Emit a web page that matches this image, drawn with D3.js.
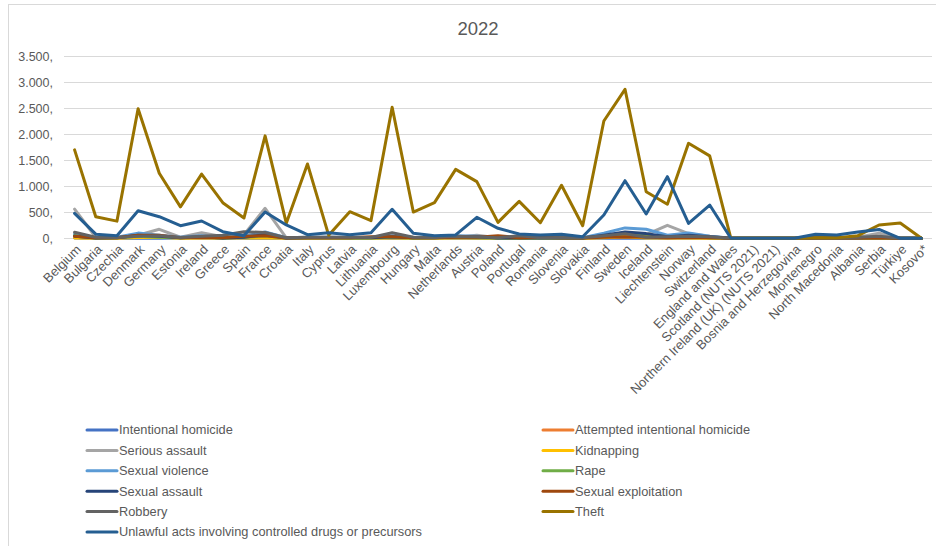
<!DOCTYPE html>
<html>
<head>
<meta charset="utf-8">
<script src="https://cdn.jsdelivr.net/npm/d3@7"></script>
<style>
  body { margin: 0; background: #fff; }
  svg { display: block; font-family: "Liberation Sans", Arial, sans-serif; }
</style>
</head>
<body>
<div id="chart"></div>
<script>
const countries = ["Belgium","Bulgaria","Czechia","Denmark","Germany","Estonia","Ireland","Greece","Spain","France",
  "Croatia","Italy","Cyprus","Latvia","Lithuania","Luxembourg","Hungary","Malta","Netherlands","Austria",
  "Poland","Portugal","Romania","Slovenia","Slovakia","Finland","Sweden","Iceland","Liechtenstein","Norway",
  "Switzerland","England and Wales","Scotland (NUTS 2021)","Northern Ireland (UK) (NUTS 2021)","Bosnia and Herzegovina",
  "Montenegro","North Macedonia","Albania","Serbia","Türkiye","Kosovo*"]

const yTicks = [0, 500, 1000, 1500, 2000, 2500, 3000, 3500]

const seriesNames = ["Intentional homicide","Attempted intentional homicide","Serious assault","Kidnapping",
  "Sexual violence","Rape","Sexual assault","Sexual exploitation","Robbery","Theft",
  "Unlawful acts involving controlled drugs or precursors"]

const homicide = [5,3,2,2,3,5,2,2,2,3,2,2,2,5,5,3,2,2,3,2,2,3,2,2,2,3,2,2,2,2,2,0,0,0,0,5,3,5,3,0,0]
const attemptedHomicide = [20,10,5,30,30,10,10,10,20,40,5,10,10,10,10,30,10,10,20,10,5,20,5,10,5,20,30,20,10,10,10,0,0,0,0,10,5,10,10,0,0]
const seriousAssault = [560,20,10,60,173,20,108,30,70,577,10,15,20,15,10,30,20,10,20,60,10,20,5,20,10,60,60,70,250,90,40,0,0,0,0,10,10,20,100,0,0]
const kidnapping = [5,2,2,15,20,2,5,5,5,5,2,2,2,2,2,5,2,2,5,5,2,2,2,2,2,10,30,5,5,5,2,0,0,0,0,2,2,2,2,0,0]
const sexualViolence = [80,10,20,100,60,20,50,10,40,120,10,20,20,15,15,50,15,20,50,40,10,20,10,20,10,100,200,173,60,100,40,0,0,0,0,10,5,10,30,0,0]
const rape = [50,5,10,40,20,10,20,5,20,50,5,10,10,5,5,20,5,10,20,10,5,10,5,10,5,40,90,70,30,40,10,0,0,0,0,5,5,5,10,0,0]
const sexualAssault = [40,5,10,60,40,10,30,5,20,70,5,10,10,10,10,30,10,10,30,30,5,10,5,10,5,60,120,90,30,60,30,0,0,0,0,5,5,5,15,0,0]
const sexualExploitation = [40,10,10,60,60,10,20,10,40,50,5,10,10,10,30,30,10,10,20,20,50,10,20,10,5,20,30,20,10,20,10,0,0,0,0,5,5,5,10,0,0]
const robbery = [115,20,15,40,50,15,40,60,127,110,10,20,20,20,15,108,20,15,40,30,10,50,10,15,10,50,90,20,30,40,30,0,0,0,0,10,10,20,40,0,0]
const theft = [1700,415,330,2490,1250,605,1235,685,390,1970,290,1430,60,512,340,2520,505,685,1325,1090,307,710,300,1020,242,2255,2865,896,654,1827,1585,0,0,0,0,10,10,50,256,294,0]
const drugs = [480,80,50,530,415,242,333,127,50,506,256,70,108,70,108,557,96,50,65,404,192,83,63,77,31,448,1108,467,1185,288,640,0,0,0,0,77,63,120,170,0,0]

const seriesValues = [homicide, attemptedHomicide, seriousAssault, kidnapping, sexualViolence, rape,
  sexualAssault, sexualExploitation, robbery, theft, drugs]
const seriesColors = ["#4472C4","#ED7D31","#A5A5A5","#FFC000","#5B9BD5","#70AD47",
  "#264478","#9E480E","#636363","#997300","#255E91"]

const width = 936, height = 546
const textColor = "#595959"

const svg = d3.select("#chart").append("svg")
  .attr("width", width)
  .attr("height", height)

// chart area frame (only left and top edges fall inside the picture)
svg.append("rect")
  .attr("x", 8.5).attr("y", 4.5)
  .attr("width", 960).attr("height", 600)
  .attr("fill", "none")
  .attr("stroke", "#d9d9d9")

svg.append("text")
  .attr("x", 478).attr("y", 35)
  .attr("text-anchor", "middle")
  .attr("fill", textColor)
  .style("font-size", "18.5px")
  .text("2022")

const x = d3.scalePoint().domain(countries).range([64, 932]).padding(0.5)
const y = d3.scaleLinear().domain([0, 3500]).range([238.3, 56.3])

const fmt = v => d3.format(",")(v).replace(/,/g, ".") + ","

// gridlines + y labels
const yAxis = svg.append("g")
yAxis.selectAll("line")
  .data(yTicks)
  .join("line")
    .attr("x1", 64).attr("x2", 932)
    .attr("y1", d => Math.round(y(d)) + 0.5)
    .attr("y2", d => Math.round(y(d)) + 0.5)
    .attr("stroke", "#d9d9d9")
    .attr("stroke-width", 1.2)
yAxis.selectAll("text")
  .data(yTicks)
  .join("text")
    .attr("x", 53)
    .attr("y", d => y(d))
    .attr("dy", "0.35em")
    .attr("text-anchor", "end")
    .attr("fill", textColor)
    .style("font-size", "12.5px")
    .text(fmt)

// x labels, rotated
svg.append("g")
  .selectAll("text")
  .data(countries)
  .join("text")
    .attr("transform", d => `translate(${x(d) + 4},${247}) rotate(-45)`)
    .attr("text-anchor", "end")
    .attr("dy", "0.35em")
    .attr("fill", textColor)
    .style("font-size", "13px")
    .text(d => d)

// lines
const line = d3.line()
  .x((d, i) => x(countries[i]))
  .y(d => y(d))

svg.append("g")
  .attr("fill", "none")
  .attr("stroke-linejoin", "round")
  .attr("stroke-linecap", "round")
  .selectAll("path")
  .data(seriesValues)
  .join("path")
    .attr("stroke", (d, i) => seriesColors[i])
    .attr("stroke-width", 3)
    .attr("d", line)

// legend in two columns
const legend = svg.append("g")
  .selectAll("g")
  .data(seriesNames)
  .join("g")
    .attr("transform", (d, i) => `translate(${i % 2 === 0 ? 87 : 543},${430 + Math.floor(i / 2) * 20.4})`)

legend.append("line")
  .attr("x1", 0).attr("x2", 30)
  .attr("stroke", (d, i) => seriesColors[i])
  .attr("stroke-width", 3)
  .attr("stroke-linecap", "round")

legend.append("text")
  .attr("x", 32)
  .attr("dy", "0.35em")
  .attr("fill", textColor)
  .style("font-size", "12.8px")
  .text(d => d)
</script>
</body>
</html>
